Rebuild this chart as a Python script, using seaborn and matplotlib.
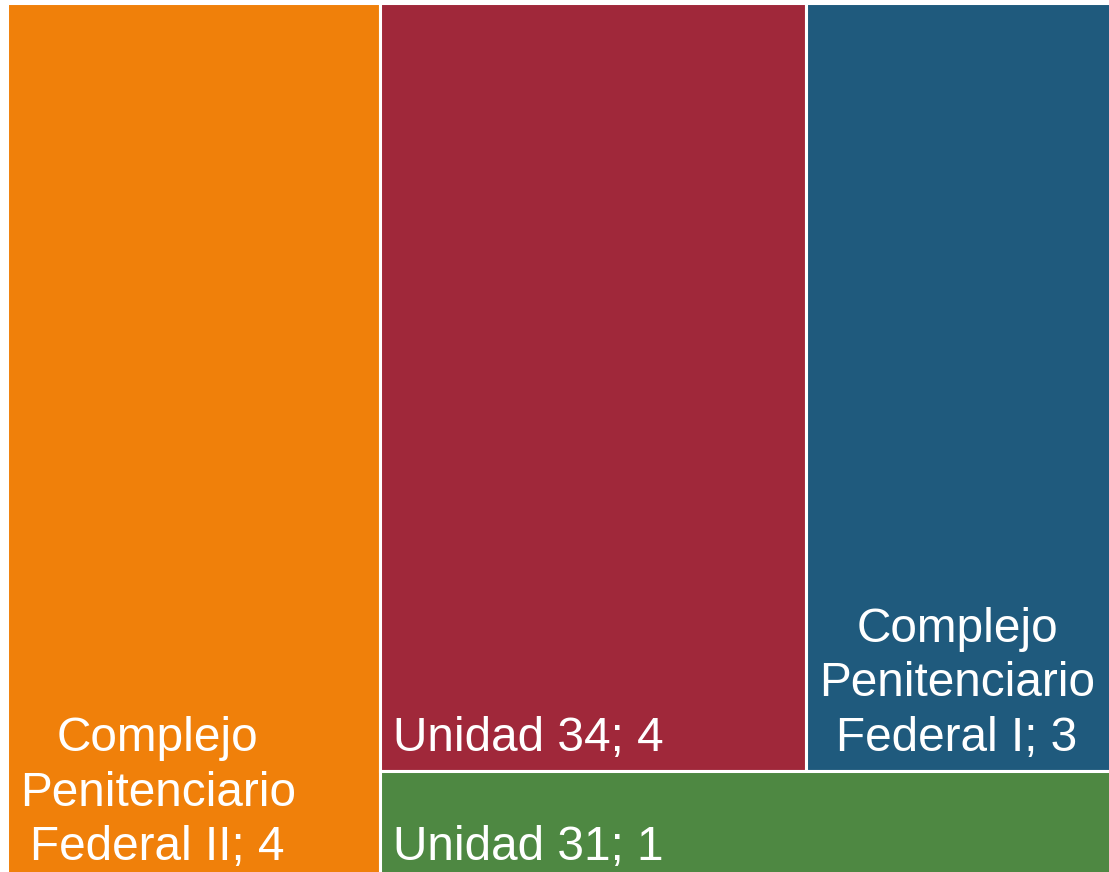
import matplotlib
matplotlib.use("Agg")
import matplotlib.pyplot as plt
import seaborn as sns

# data
names = ["Complejo\nPenitenciario\nFederal II", "Unidad 34",
         "Complejo\nPenitenciario\nFederal I", "Unidad 31"]
values = [4, 4, 3, 1]
colors = ["#F0800A", "#A0283A", "#1F5A7D", "#4E8842"]

sns.set_theme(style="white")
plt.rcParams["font.family"] = ["Liberation Sans", "DejaVu Sans"]

W, H = 1109, 872
fig = plt.figure(figsize=(W / 100, H / 100), dpi=100)
ax = fig.add_axes([6.5 / W, (872 - 880.1) / H, 1119 / W, 876.6 / H])

# treemap layout: first item as a full-height column, the rest split into
# a top row (items 2,3) and a bottom strip (item 4)
total = sum(values)
w0 = values[0] / total
rest_w = 1 - w0
top_h = (values[1] + values[2]) / total / rest_w
w1 = values[1] / total / top_h
w2 = values[2] / total / top_h

lefts = [0, w0, w0 + w1, w0]
widths = [w0, w1, w2, rest_w]
bottoms = [0, 1 - top_h, 1 - top_h, 0]
heights = [1, top_h, top_h, 1 - top_h]

ax.bar(lefts, heights, width=widths, bottom=bottoms, align="edge",
       color=colors, edgecolor="white", linewidth=2.2)

for name, v, x, y in zip(names, values, lefts, bottoms):
    ax.annotate(f"{name}; {v}", xy=(x, y), xytext=(9.5, 7.2),
                textcoords="offset points", ha="left", va="bottom",
                multialignment="center", color="white", fontsize=34.4,
                linespacing=1.27)

ax.set_xlim(0, 1)
ax.set_ylim(0, 1)
ax.axis("off")

fig.savefig("out.png", dpi=100, facecolor="white")
